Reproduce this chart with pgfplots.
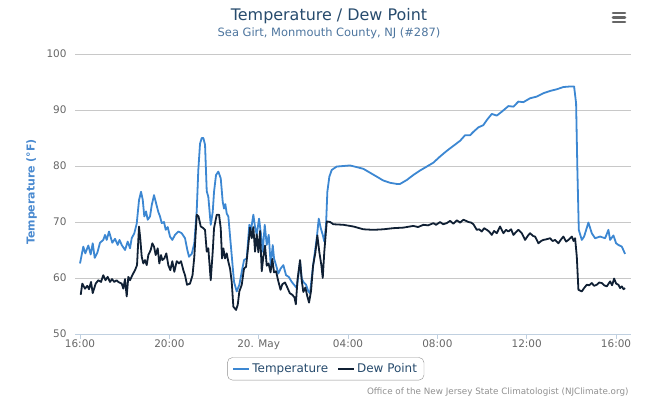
\documentclass[border=0pt]{standalone}
\usepackage{pgfplots}
\pgfplotsset{compat=1.18}
\usepackage{fontspec}
\setmainfont{DejaVu Sans}
\definecolor{tempc}{RGB}{60,135,210}
\definecolor{dewc}{RGB}{16,32,52}
\definecolor{titlec}{RGB}{39,75,109}
\definecolor{subc}{RGB}{77,117,158}
\definecolor{gridc}{RGB}{200,200,200}
\definecolor{axc}{RGB}{192,208,224}
\definecolor{labc}{RGB}{102,102,102}
\definecolor{credc}{RGB}{144,144,144}
\definecolor{ylabc}{RGB}{74,138,208}
\begin{document}
\begin{tikzpicture}[x=1bp,y=1bp]
\path[use as bounding box] (0,0) rectangle (672,408);
\node[font=\fontsize{16}{19}\selectfont, text=titlec] at (329,392) {Temperature / Dew Point};
\node[font=\fontsize{11.5}{14}\selectfont, text=subc] at (329,375) {Sea Girt, Monmouth County, NJ (\#287)};
\foreach \yy in {395,390.5,386} {\draw[line width=2.6bp, line cap=round, color=labc] (613,\yy) -- (625,\yy);}
\node[font=\fontsize{8.8}{10}\selectfont, text=credc, anchor=east] at (632,16) {Office of the New Jersey State Climatologist (NJClimate.org)};
\begin{axis}[
  at={(75bp,74bp)}, anchor=south west,
  scale only axis, width=556bp, height=280bp,
  xmin=-0.224, xmax=24.67, ymin=50, ymax=100,
  axis x line*=bottom, axis y line*=left,
  axis line style={-},
  x axis line style={draw=axc, line width=1bp},
  y axis line style={draw=none},
  ymajorgrids, major grid style={draw=gridc, line width=0.9bp},
  xtick={0,4,8,12,16,20,24},
  xticklabels={16:00,20:00,20. May,04:00,08:00,12:00,16:00},
  ytick={50,60,70,80,90,100},
  tick align=outside, major tick length=5bp,
  xtick style={draw=axc, line width=1bp},
  ytick style={draw=none},
  /pgf/number format/assume math mode=true,
  tick label style={font=\fontsize{10.5}{12}\selectfont, text=labc},
  xticklabel style={yshift=3bp},
  yticklabel style={xshift=0bp},
  ylabel={Temperature (°F)},
  every axis y label/.style={at={(axis description cs:-0.0779,0.507)}, rotate=90, anchor=center},
  ylabel style={font=\bfseries\fontsize{11}{13}\selectfont, text=ylabc},
  legend columns=2,
  legend style={at={(0.4509,-0.1243)}, anchor=center, draw=credc, rounded corners=5bp,
    font=\fontsize{12}{14}\selectfont, text=titlec, inner xsep=5bp, inner ysep=4bp,
    /tikz/every even column/.append style={column sep=7bp}},
  legend image code/.code={\draw[#1, line width=2bp] (0bp,0bp) -- (16bp,0bp);},
  every axis plot/.append style={line width=1.8bp, line join=round},
]
\addplot[color=tempc] coordinates {
(0.000,62.6)(0.148,65.6)(0.237,64.4)(0.372,65.8)(0.479,64.2)(0.569,66.2)(0.658,63.6)(0.775,64.5)
(0.896,66.3)(1.043,66.8)(1.120,67.7)(1.196,66.8)(1.299,68.3)(1.446,66.3)(1.567,67.0)(1.688,65.9)
(1.769,66.8)(1.867,65.9)(2.015,65.0)(2.136,66.5)(2.239,65.3)(2.315,67.1)(2.432,68.0)(2.539,69.7)
(2.642,73.9)(2.732,75.4)(2.808,74.0)(2.879,71.0)(2.955,71.9)(3.032,70.4)(3.135,71.0)(3.211,73.0)
(3.314,74.8)(3.403,73.4)(3.506,71.8)(3.582,71.0)(3.659,69.8)(3.761,70.0)(3.838,68.6)(3.927,69.1)
(4.030,67.4)(4.133,66.8)(4.254,67.7)(4.402,68.3)(4.554,68.0)(4.702,67.1)(4.805,65.0)(4.881,63.8)
(5.002,64.3)(5.118,66.2)(5.226,72.0)(5.297,79.3)(5.374,84.0)(5.450,85.0)(5.521,85.0)(5.598,83.8)
(5.674,75.5)(5.745,74.5)(5.853,69.5)(5.942,71.8)(6.001,75.4)(6.090,78.4)(6.193,79.0)(6.301,77.8)
(6.390,73.6)(6.448,72.4)(6.507,73.2)(6.569,71.5)(6.641,71.0)(6.717,67.5)(6.793,64.0)(6.896,59.3)
(7.017,57.6)(7.134,58.8)(7.242,61.1)(7.344,63.2)(7.465,63.5)(7.581,69.5)(7.657,68.6)(7.761,71.3)
(7.837,69.1)(7.913,67.7)(8.016,70.6)(8.105,67.7)(8.181,64.7)(8.271,69.5)(8.360,65.9)(8.450,67.7)
(8.539,62.3)(8.629,65.9)(8.687,63.5)(8.777,62.3)(8.880,60.8)(8.987,61.7)(9.104,62.3)(9.225,60.5)
(9.346,60.2)(9.480,59.3)(9.583,58.8)(9.704,58.2)(9.852,62.9)(9.928,59.9)(9.999,59.3)(10.120,58.8)
(10.223,57.6)(10.299,57.3)(10.389,60.5)(10.478,63.5)(10.600,67.1)(10.689,70.6)(10.779,68.9)(10.868,67.7)
(10.940,66.5)(11.016,69.5)(11.074,75.4)(11.164,78.1)(11.271,79.3)(11.495,79.9)(11.791,80.0)(12.091,80.1)
(12.391,79.8)(12.686,79.5)(12.986,78.8)(13.286,78.1)(13.582,77.4)(13.882,77.0)(14.182,76.8)(14.330,76.8)
(14.630,77.5)(14.926,78.4)(15.226,79.2)(15.526,79.9)(15.821,80.6)(16.121,81.7)(16.421,82.7)(16.717,83.6)
(17.017,84.5)(17.241,85.5)(17.465,85.5)(17.613,86.1)(17.837,86.9)(18.060,87.3)(18.213,88.2)(18.436,89.3)
(18.660,89.0)(18.884,89.7)(19.180,90.7)(19.404,90.6)(19.628,91.5)(19.851,91.4)(20.152,92.1)(20.452,92.4)
(20.747,93.0)(21.047,93.4)(21.347,93.7)(21.642,94.1)(21.943,94.2)(22.122,94.2)(22.211,91.2)(22.269,79.3)
(22.332,68.6)(22.466,66.8)(22.570,67.4)(22.762,69.9)(22.914,68.0)(23.062,67.1)(23.286,67.4)(23.510,67.1)
(23.658,68.6)(23.734,66.8)(23.882,67.6)(24.003,66.2)(24.106,65.9)(24.258,65.6)(24.405,64.3)
};
\addlegendentry{Temperature}
\addplot[color=dewc] coordinates {
(0.031,57.0)(0.103,59.0)(0.224,58.1)(0.327,58.6)(0.403,58.0)(0.493,59.3)(0.569,57.3)(0.703,59.0)
(0.819,59.6)(0.940,59.3)(1.043,60.5)(1.142,59.6)(1.240,60.2)(1.343,59.3)(1.433,59.8)(1.536,59.3)
(1.634,59.6)(1.715,59.3)(1.867,59.0)(1.939,58.1)(2.015,59.8)(2.091,56.7)(2.163,60.2)(2.239,59.6)
(2.342,60.5)(2.463,61.4)(2.553,62.3)(2.642,69.2)(2.700,67.0)(2.763,63.8)(2.835,62.6)(2.911,63.2)
(2.987,62.3)(3.059,64.1)(3.166,65.0)(3.238,66.2)(3.314,65.6)(3.390,64.1)(3.479,65.3)(3.551,62.6)
(3.627,64.1)(3.685,63.2)(3.775,63.5)(3.865,64.4)(3.954,62.3)(4.044,61.4)(4.133,63.0)(4.223,61.1)
(4.330,63.0)(4.433,62.6)(4.523,63.0)(4.626,61.4)(4.702,60.5)(4.791,58.8)(4.926,59.0)(5.038,60.5)
(5.118,63.8)(5.226,71.3)(5.306,71.0)(5.405,69.2)(5.521,68.9)(5.598,68.6)(5.674,64.7)(5.745,65.3)
(5.853,59.6)(5.942,64.7)(6.001,68.9)(6.122,71.3)(6.225,71.3)(6.301,68.9)(6.359,63.5)(6.418,65.3)
(6.494,63.5)(6.569,64.4)(6.641,62.9)(6.717,61.7)(6.793,59.3)(6.865,54.9)(6.986,54.3)(7.062,55.2)
(7.134,57.6)(7.242,58.8)(7.344,61.7)(7.434,62.0)(7.537,65.9)(7.613,69.0)(7.689,67.1)(7.761,69.1)
(7.837,64.7)(7.913,67.8)(7.985,64.6)(8.061,68.4)(8.137,61.2)(8.209,63.8)(8.284,65.8)(8.360,62.2)
(8.442,62.6)(8.531,61.0)(8.611,63.4)(8.687,61.0)(8.777,61.2)(8.880,59.4)(8.979,57.9)(9.059,58.9)
(9.180,59.2)(9.283,58.3)(9.391,57.3)(9.507,57.0)(9.605,56.5)(9.663,55.3)(9.739,59.7)(9.852,63.2)
(9.928,59.5)(9.999,57.5)(10.089,58.3)(10.179,56.7)(10.255,55.6)(10.344,57.7)(10.434,62.2)(10.537,64.5)
(10.627,67.6)(10.716,64.6)(10.806,62.3)(10.868,60.0)(10.940,64.8)(11.048,70.1)(11.196,70.0)(11.343,69.6)
(11.791,69.5)(12.239,69.2)(12.686,68.7)(13.135,68.6)(13.582,68.7)(14.030,68.9)(14.478,69.0)(14.926,69.3)
(15.136,69.1)(15.374,69.5)(15.584,69.4)(15.821,69.8)(15.942,69.5)(16.121,70.0)(16.256,69.6)(16.421,69.8)
(16.569,70.2)(16.717,69.7)(16.869,70.3)(17.017,69.9)(17.165,70.4)(17.286,70.2)(17.389,70.0)(17.510,69.9)
(17.613,69.6)(17.765,68.6)(17.868,68.7)(17.989,68.3)(18.092,68.9)(18.213,68.6)(18.316,68.3)(18.436,67.7)
(18.540,68.4)(18.660,68.0)(18.809,69.2)(18.956,68.0)(19.077,68.6)(19.180,68.3)(19.301,68.7)(19.404,67.7)
(19.525,68.2)(19.628,68.6)(19.780,68.0)(19.927,66.8)(20.062,67.6)(20.152,68.0)(20.286,67.5)(20.376,67.4)
(20.523,66.2)(20.644,66.6)(20.747,66.8)(20.868,66.9)(21.047,67.1)(21.159,66.6)(21.271,66.8)(21.419,66.2)
(21.540,66.9)(21.642,67.4)(21.764,66.5)(21.867,66.8)(22.019,67.4)(22.100,66.6)(22.167,67.1)(22.243,63.8)
(22.315,57.9)(22.466,57.6)(22.570,58.2)(22.690,58.8)(22.794,58.7)(22.914,59.1)(23.018,58.6)(23.138,58.8)
(23.241,59.2)(23.362,59.1)(23.465,58.7)(23.586,58.5)(23.667,59.0)(23.734,59.4)(23.824,58.7)(23.914,59.9)
(24.003,59.0)(24.106,58.8)(24.182,58.2)(24.258,58.5)(24.338,58.0)(24.405,58.2)
};
\addlegendentry{Dew Point}
\end{axis}
\end{tikzpicture}
\end{document}
